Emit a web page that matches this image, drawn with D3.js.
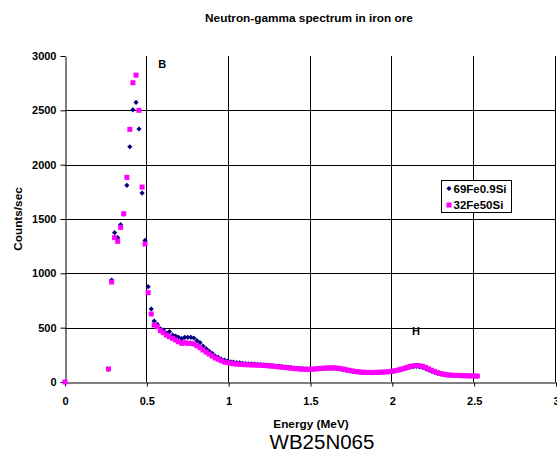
<!DOCTYPE html>
<html>
<head>
<meta charset="utf-8">
<script src="https://d3js.org/d3.v7.min.js"></script>
<style>
  body { margin: 0; background: #fff; }
  text { font-family: "Liberation Sans", Arial, sans-serif; }
</style>
</head>
<body>
<div id="chart"></div>
<script>

// Channel energies (MeV)
var energy = [0,
  0.266, 0.285, 0.303, 0.322, 0.340, 0.359, 0.378, 0.396, 0.415, 0.434,
  0.452, 0.471, 0.489, 0.508, 0.527, 0.545, 0.564, 0.583, 0.601, 0.620,
  0.638, 0.657, 0.676, 0.694, 0.713, 0.732, 0.750, 0.769, 0.787, 0.806,
  0.825, 0.843, 0.862, 0.880, 0.899, 0.918, 0.936, 0.955, 0.974, 0.992,
  1.011, 1.029, 1.048, 1.067, 1.085, 1.104, 1.122, 1.141, 1.160, 1.178,
  1.197, 1.216, 1.234, 1.253, 1.271, 1.290, 1.309, 1.327, 1.346, 1.364,
  1.383, 1.402, 1.420, 1.439, 1.458, 1.476, 1.495, 1.513, 1.532, 1.551,
  1.569, 1.588, 1.607, 1.625, 1.644, 1.662, 1.681, 1.700, 1.718, 1.737,
  1.756, 1.774, 1.793, 1.811, 1.830, 1.849, 1.867, 1.886, 1.904, 1.923,
  1.942, 1.960, 1.979, 1.998, 2.016, 2.035, 2.053, 2.072, 2.091, 2.109,
  2.128, 2.147, 2.165, 2.184, 2.203, 2.221, 2.240, 2.258, 2.277, 2.296,
  2.314, 2.333, 2.351, 2.370, 2.389, 2.407, 2.426, 2.445, 2.463, 2.482,
  2.500, 2.519];

// 69Fe0.9Si counts/sec
var fe69 = [0,
  115, 938, 1374, 1328, 1448, 1545, 1810, 2165, 2505, 2573,
  2328, 1739, 1303, 877, 672, 561, 531, 490, 478, 448,
  463, 432, 423, 411, 399, 411, 411, 411, 405, 380,
  362, 331, 307, 285, 264, 239, 227, 209, 202, 192,
  186, 182, 178, 176, 172, 170, 168, 166, 164, 162,
  160, 158, 156, 154, 150, 147, 144, 141, 138, 135,
  132, 129, 126, 124, 122, 120, 119, 119, 120, 122,
  124, 125, 126, 126, 125, 122, 118, 113, 107, 102,
  97, 94, 91, 89, 88, 87, 87, 87, 88, 89,
  90, 92, 94, 97, 101, 107, 114, 121, 129, 136,
  141, 143, 141, 134, 124, 112, 100, 89, 80, 73,
  68, 64, 62, 60, 59, 58, 57, 56, 55, 55,
  54, 54];

// 32Fe50Si counts/sec
var fe32 = [0,
  120, 920, 1328, 1294, 1423, 1548, 1883, 2325, 2754, 2824,
  2500, 1794, 1270, 822, 626, 524, 509, 472, 454, 432,
  417, 402, 386, 371, 356, 362, 356, 356, 350, 334,
  316, 294, 276, 258, 239, 221, 209, 196, 184, 178,
  172, 168, 165, 163, 161, 159, 158, 157, 156, 155,
  154, 152, 150, 148, 145, 142, 139, 136, 133, 130,
  127, 124, 121, 119, 118, 117, 117, 118, 120, 123,
  126, 128, 130, 131, 130, 128, 124, 119, 113, 107,
  102, 97, 94, 91, 89, 88, 88, 88, 89, 90,
  91, 93, 96, 99, 104, 110, 118, 126, 135, 143,
  149, 152, 150, 144, 134, 121, 108, 96, 86, 78,
  72, 67, 64, 62, 61, 60, 59, 58, 57, 56,
  56, 55];

var seriesNames = ["69Fe0.9Si", "32Fe50Si"];
var xTicks = [0, 0.5, 1, 1.5, 2, 2.5, 3];
var yTicks = [0, 500, 1000, 1500, 2000, 2500, 3000];

var svgWidth = 557;
var svgHeight = 453;

var chartMargin = {
  top: 56,
  right: 1,
  bottom: 71,
  left: 65
};

var chartWidth = svgWidth - chartMargin.left - chartMargin.right;
var chartHeight = svgHeight - chartMargin.top - chartMargin.bottom;

var svg = d3
  .select("#chart")
  .append("svg")
  .attr("height", svgHeight)
  .attr("width", svgWidth);

var chartGroup = svg.append("g")
  .attr("transform", `translate(${chartMargin.left}, ${chartMargin.top})`);

//scale functions
var xLinearScale = d3.scaleLinear()
  .domain([0, 3])
  .range([0, chartWidth]);

var yLinearScale = d3.scaleLinear()
  .domain([0, 3000])
  .range([chartHeight, 0]);

// gridlines (no line along the top)
chartGroup.selectAll(".hgrid")
  .data(yTicks.filter(d => d > 0 && d < 3000))
  .enter()
  .append("line")
  .attr("x1", 0)
  .attr("x2", chartWidth)
  .attr("y1", d => Math.round(yLinearScale(d)) + 0.5)
  .attr("y2", d => Math.round(yLinearScale(d)) + 0.5)
  .attr("stroke", "#000");

chartGroup.selectAll(".vgrid")
  .data(xTicks.filter(d => d > 0))
  .enter()
  .append("line")
  .attr("y1", 0)
  .attr("y2", chartHeight)
  .attr("x1", d => Math.round(xLinearScale(d)) - 0.5)
  .attr("x2", d => Math.round(xLinearScale(d)) - 0.5)
  .attr("stroke", "#000");

//create axis functions
var bottomAxis = d3.axisBottom(xLinearScale)
  .tickValues(xTicks)
  .tickFormat(d3.format("~g"))
  .tickSize(4)
  .tickSizeOuter(0);
var leftAxis = d3.axisLeft(yLinearScale)
  .tickValues(yTicks)
  .tickFormat(d3.format("d"))
  .tickSize(5)
  .tickSizeOuter(0);

var xAxisG = chartGroup.append("g")
  .attr("transform", `translate(0, ${chartHeight + 0.5})`)
  .call(bottomAxis);

var yAxisG = chartGroup.append("g")
  .attr("transform", "translate(0.5, 0)")
  .call(leftAxis);

[xAxisG, yAxisG].forEach(function(g) {
  g.select(".domain").attr("stroke", "#000");
  g.selectAll(".tick line").attr("stroke", "#000");
  g.selectAll(".tick text")
    .attr("fill", "#000")
    .attr("font-size", "11px")
    .attr("font-weight", "bold")
    .attr("font-family", "Liberation Sans, Arial, sans-serif");
});
xAxisG.selectAll(".tick text").attr("dy", "1.45em");
yAxisG.selectAll(".tick text").attr("x", -9);

// build point data
var pts69 = energy.map((e, i) => ({ x: e, y: fe69[i] }));
var pts32 = energy.map((e, i) => ({ x: e, y: fe32[i] }));

var diamond = "M0,-2.6L2.6,0L0,2.6L-2.6,0Z";

chartGroup.selectAll(".fe69")
  .data(pts69)
  .enter()
  .append("path")
  .attr("d", diamond)
  .attr("transform", d => `translate(${xLinearScale(d.x)}, ${yLinearScale(d.y)})`)
  .attr("fill", "#000080");

chartGroup.selectAll(".fe32")
  .data(pts32)
  .enter()
  .append("rect")
  .attr("x", d => xLinearScale(d.x) - 2.5)
  .attr("y", d => yLinearScale(d.y) - 2.5)
  .attr("width", 5)
  .attr("height", 5)
  .attr("fill", "#FF00FF");

// peak labels
chartGroup.append("text")
  .attr("x", xLinearScale(0.57))
  .attr("y", yLinearScale(2890))
  .attr("font-size", "11px")
  .attr("font-weight", "bold")
  .text("B");

chartGroup.append("text")
  .attr("x", xLinearScale(2.12))
  .attr("y", yLinearScale(435))
  .attr("font-size", "11px")
  .attr("font-weight", "bold")
  .text("H");

// legend
var legend = svg.append("g")
  .attr("transform", "translate(441.5, 180.5)");

legend.append("rect")
  .attr("width", 70)
  .attr("height", 32)
  .attr("fill", "#fff")
  .attr("stroke", "#000");

var legendRows = legend.selectAll(".row")
  .data(seriesNames)
  .enter()
  .append("g")
  .attr("transform", (d, i) => `translate(0, ${8 + i * 16.5})`);

legendRows.filter((d, i) => i === 0)
  .append("path")
  .attr("d", diamond)
  .attr("transform", "translate(7.5, 0)")
  .attr("fill", "#000080");

legendRows.filter((d, i) => i === 1)
  .append("rect")
  .attr("x", 5)
  .attr("y", -2.5)
  .attr("width", 5)
  .attr("height", 5)
  .attr("fill", "#FF00FF");

legendRows.append("text")
  .attr("x", 12)
  .attr("dy", "0.36em")
  .attr("font-size", "11.5px")
  .attr("font-weight", "bold")
  .text(d => d);

// titles
svg.append("text")
  .attr("x", 309)
  .attr("y", 22)
  .attr("text-anchor", "middle")
  .attr("font-size", "11.8px")
  .attr("font-weight", "bold")
  .text("Neutron-gamma spectrum in iron ore");

svg.append("text")
  .attr("x", 311)
  .attr("y", 428)
  .attr("text-anchor", "middle")
  .attr("font-size", "11.8px")
  .attr("font-weight", "bold")
  .text("Energy (MeV)");

svg.append("text")
  .attr("transform", "translate(22, 219) rotate(-90)")
  .attr("text-anchor", "middle")
  .attr("font-size", "11.8px")
  .attr("font-weight", "bold")
  .text("Counts/sec");

svg.append("text")
  .attr("x", 322)
  .attr("y", 449)
  .attr("text-anchor", "middle")
  .attr("font-size", "20.5px")
  .text("WB25N065");

</script>
</body>
</html>
